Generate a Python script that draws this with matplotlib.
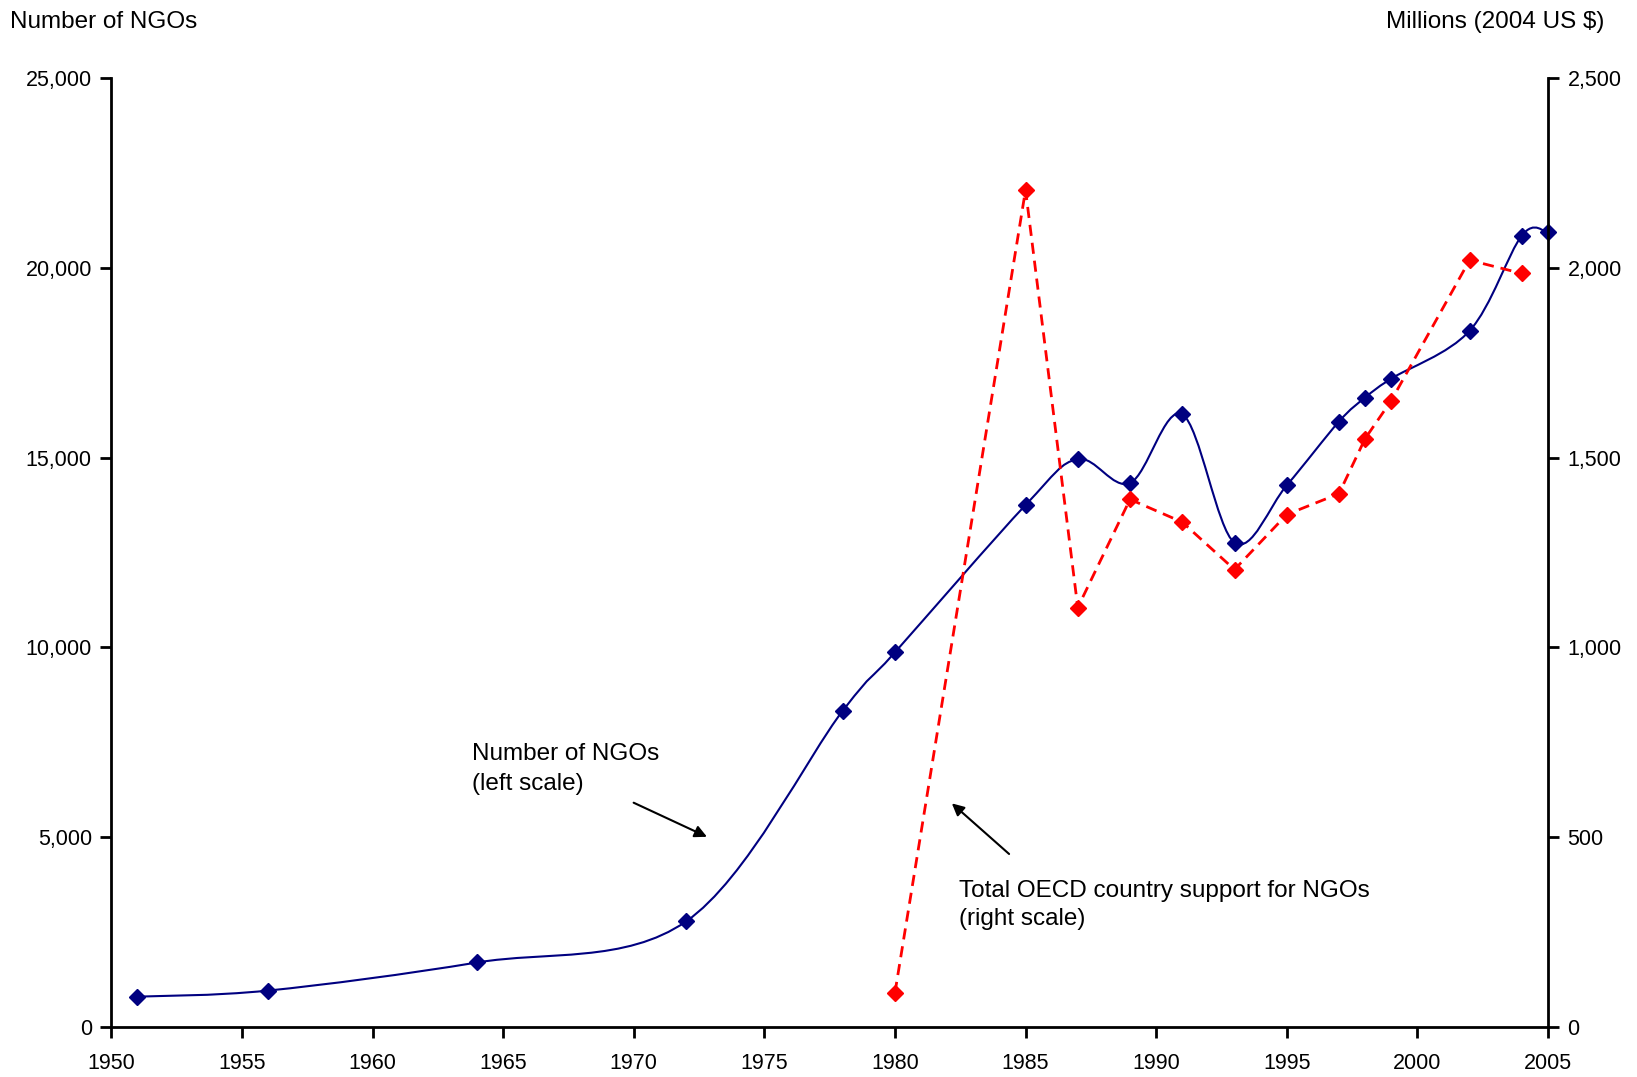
import numpy as np
import matplotlib.pyplot as plt
from matplotlib.path import Path
from matplotlib.patches import PathPatch
from matplotlib.ticker import FuncFormatter

plt.rcParams['font.family'] = ['Liberation Sans', 'DejaVu Sans']

ngo_years = [1951, 1956, 1964, 1972, 1978, 1980, 1985, 1987, 1989, 1991,
             1993, 1995, 1997, 1998, 1999, 2002, 2004, 2005]
ngo_counts = [800, 960, 1700, 2780, 8330, 9870, 13750, 14960, 14330, 16140,
              12760, 14270, 15950, 16580, 17080, 18340, 20850, 20930]

oecd_years = [1980, 1985, 1987, 1989, 1991, 1993, 1995, 1997, 1998, 1999, 2002, 2004]
oecd_support = [90, 2205, 1105, 1390, 1330, 1205, 1350, 1405, 1550, 1650, 2020, 1985]

x_ticks = list(range(1950, 2006, 5))
left_ticks = [0, 5000, 10000, 15000, 20000, 25000]
right_ticks = [0, 500, 1000, 1500, 2000, 2500]

navy = '#000080'
red = '#FF0000'


def smooth_path(ax, xs, ys, xr, yr):
    # Excel-like smoothed line: cardinal bezier through the points, built in
    # axes-pixel space so the curve looks the same as on screen
    w, h = ax.bbox.width, ax.bbox.height
    px = (np.array(xs) - xr[0]) / (xr[1] - xr[0]) * w
    py = (np.array(ys) - yr[0]) / (yr[1] - yr[0]) * h
    pts = np.column_stack([px, py])
    n = len(pts)
    verts = [pts[0]]
    codes = [Path.MOVETO]
    for i in range(n - 1):
        p0 = pts[max(i - 1, 0)]
        p1 = pts[i]
        p2 = pts[i + 1]
        p3 = pts[min(i + 2, n - 1)]
        c1 = p1 + (p2 - p0) / 6.0
        c2 = p2 - (p3 - p1) / 6.0
        verts += [c1, c2, p2]
        codes += [Path.CURVE4] * 3
    verts = np.array(verts)
    verts[:, 0] = verts[:, 0] / w * (xr[1] - xr[0]) + xr[0]
    verts[:, 1] = verts[:, 1] / h * (yr[1] - yr[0]) + yr[0]
    return Path(verts, codes)


fig = plt.figure(figsize=(16.37, 10.77), dpi=100)
ax = fig.add_axes([0.068, 0.0464, 0.8776, 0.8812])
ax2 = ax.twinx()

xr = (1950, 2005)
ax.set_xlim(*xr)
ax.set_ylim(0, 25000)
ax2.set_ylim(0, 2500)

path = smooth_path(ax, ngo_years, ngo_counts, xr, (0, 25000))
ax.add_patch(PathPatch(path, facecolor='none', edgecolor=navy, lw=1.5, zorder=3))
ax.plot(ngo_years, ngo_counts, linestyle='none', marker='D', color=navy,
        markersize=8, zorder=4, clip_on=False)

ax2.plot(oecd_years, oecd_support, linestyle=(0, (4, 2.5)), color=red, lw=2,
         marker='D', markersize=8, zorder=4, clip_on=False)

ax.set_xticks(x_ticks)
ax.set_yticks(left_ticks)
ax2.set_yticks(right_ticks)
fmt = FuncFormatter(lambda v, p: f'{int(v):,}')
ax.yaxis.set_major_formatter(fmt)
ax2.yaxis.set_major_formatter(fmt)

for a in (ax, ax2):
    a.spines['top'].set_visible(False)
    for s in a.spines.values():
        s.set_linewidth(2)
    a.tick_params(direction='out', length=8, width=2, labelsize=15.5, pad=6)
ax.tick_params(axis='x', pad=11)
ax.spines['right'].set_visible(False)
ax2.spines['left'].set_visible(False)
ax2.spines['bottom'].set_visible(False)

fig.text(0.006, 0.980, 'Number of NGOs', fontsize=17.5, ha='left', va='center')
fig.text(0.980, 0.980, 'Millions (2004 US $)', fontsize=17.5, ha='right', va='center')

ax.text(1963.8, 7480, 'Number of NGOs\n(left scale)', fontsize=17.5, ha='left',
        va='top', linespacing=1.45)
ax.annotate('', xy=(1972.9, 4980), xytext=(1969.9, 5940),
            arrowprops=dict(arrowstyle='-|>', color='black', lw=1.5,
                            mutation_scale=18))
ax.text(1982.45, 3880, 'Total OECD country support for NGOs\n(right scale)',
        fontsize=17.5, ha='left', va='top', linespacing=1.35)
ax.annotate('', xy=(1982.1, 5940), xytext=(1984.45, 4510),
            arrowprops=dict(arrowstyle='-|>', color='black', lw=1.5,
                            mutation_scale=18))

fig.savefig('out.png', dpi=100)
